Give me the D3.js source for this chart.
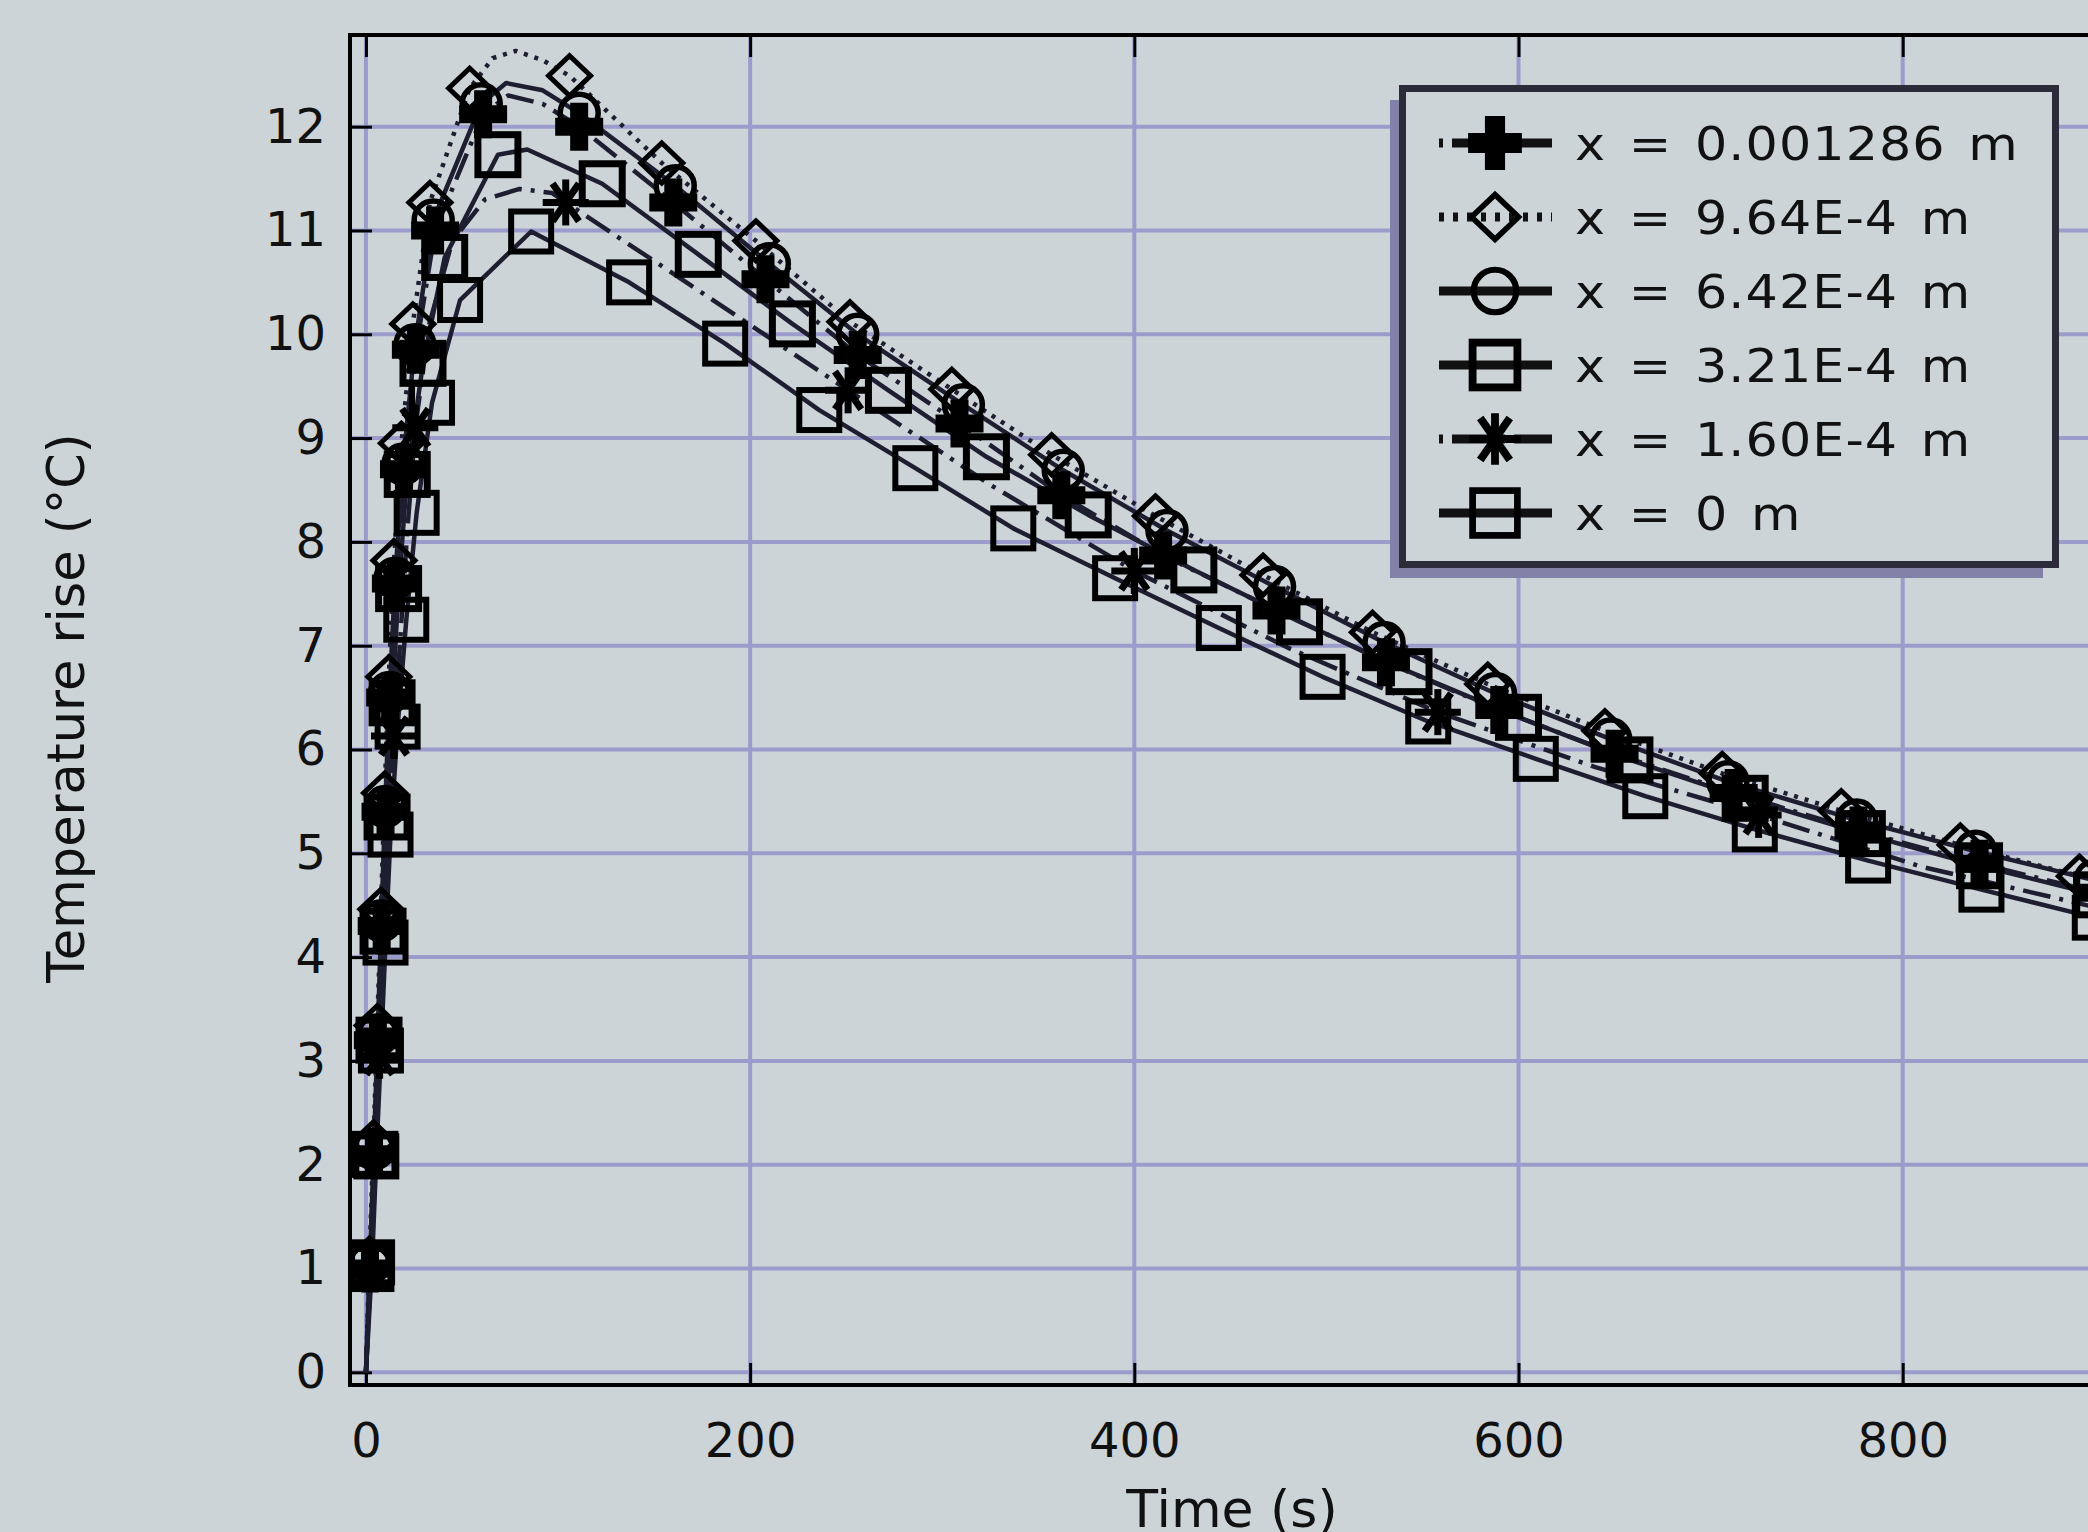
<!DOCTYPE html>
<html>
<head>
<meta charset="utf-8">
<script src="https://cdn.jsdelivr.net/npm/d3@7"></script>
<style>
  html, body { margin: 0; padding: 0; background: #ccd4d8; }
  svg { display: block; }
  text { font-family: "DejaVu Sans", sans-serif; fill: #111; }
</style>
</head>
<body>
<svg id="chart" width="2088" height="1532"></svg>
<script>
// axis ticks
const xTicks = [0, 200, 400, 600, 800];
const yTicks = [0, 1, 2, 3, 4, 5, 6, 7, 8, 9, 10, 11, 12];

const labels = ['x = 0.001286 m', 'x = 9.64E-4 m', 'x = 6.42E-4 m', 'x = 3.21E-4 m', 'x = 1.60E-4 m', 'x = 0 m'];
const markerTypes = ['plus', 'diamond', 'circle', 'square2', 'asterisk', 'square'];
const dashTypes = ['dashdot', 'dot', 'solid', 'solid', 'dashdot', 'solid'];

// [time (s), temperature rise (°C)] at the markers
const marksA = [[2.1,1.0],[4.2,2.1],[6.2,3.2],[8.2,4.3],[10.2,5.4],[12.6,6.5],[15.6,7.6],[19.8,8.7],[26,9.85],[36,11.0],[61,12.12],[111,12.0],[160,11.27],[208,10.53],[256,9.8],[309,9.14],[362,8.45],[415,7.87],[474,7.34],[531,6.84],[590,6.38],[650,5.96],[712,5.58],[777,5.22],[840,4.9],[902,4.62]];
const marksB = [[1.8,1.1],[3.9,2.22],[5.9,3.34],[7.8,4.46],[9.7,5.58],[11.9,6.7],[14.6,7.82],[18.5,8.95],[24.4,10.1],[33.3,11.27],[54,12.37],[106,12.49],[154,11.65],[203,10.9],[252,10.12],[305,9.47],[357,8.84],[411,8.25],[467,7.68],[524,7.13],[584,6.63],[645,6.18],[706,5.77],[768,5.41],[830,5.08],[892,4.78]];
const marksC = [[2,1.05],[4.1,2.15],[6.1,3.25],[8,4.35],[10,5.45],[12.3,6.55],[15.2,7.65],[19.3,8.75],[25.5,9.9],[35,11.1],[60,12.22],[111,12.13],[161,11.43],[210,10.68],[256,10.0],[311,9.32],[363,8.69],[417,8.11],[473,7.57],[530,7.03],[588,6.54],[648,6.1],[709,5.69],[776,5.32],[838,5.02],[900,4.74]];
const marksD = [[2.6,1.0],[4.7,2.1],[6.8,3.2],[8.9,4.25],[11,5.35],[13.6,6.45],[17,7.55],[21.5,8.65],[29.7,9.72],[41,10.74],[68.7,11.73],[123,11.45],[173,10.77],[222,10.1],[272,9.46],[323,8.82],[376,8.26],[431,7.73],[486,7.23],[543,6.75],[600,6.31],[658,5.9],[718,5.53],[779,5.19],[840,4.88],[901,4.6]];
const marksE = [[7.1,3.05],[14.6,6.13],[25.7,9.1],[104,11.27],[251,9.46],[400,7.72],[558,6.36],[725,5.37]];
const marksF = [[3.2,1.06],[5.4,2.08],[7.8,3.1],[10.2,4.14],[12.8,5.18],[16.5,6.22],[21,7.25],[26.4,8.28],[34.4,9.34],[49,10.33],[86,10.99],[137,10.5],[187,9.91],[236,9.27],[286,8.71],[337,8.13],[390,7.65],[444,7.17],[498,6.7],[553,6.27],[609,5.91],[666,5.55],[723,5.23],[782,4.93],[841,4.65],[900,4.38]];

// extra curve points between markers (start and peaks)
const extraA = [[0,0],[74,12.3],[92,12.22]];
const extraB = [[0,0],[66,12.66],[78,12.73],[92,12.64]];
const extraC = [[0,0],[73,12.42],[92,12.35]];
const extraD = [[0,0],[84,11.78]];
const extraE = [[0,0],[2.5,1],[5,2],[9.5,4.1],[12,5.1],[18,7.1],[21.5,8.1],[33,10.1],[45,10.9],[62,11.3],[80,11.4],[97,11.36],[175,10.4],[325,8.55],[480,6.98],[640,5.83],[810,4.87],[905,4.46]];
const extraF = [[0,0]];

const marks = [marksA, marksB, marksC, marksD, marksE, marksF];
const extras = [extraA, extraB, extraC, extraD, extraE, extraF];

// layout
const frame = { left: 350, top: 35, right: 2114, bottom: 1385 };
const gridColor = '#9c9ccc';
const lineColor = '#1e1e30';
const dashes = { solid: null, dot: '4,7', dashdot: '28,9,4,9' };

const svg = d3.select('#chart');

const x = d3.scaleLinear().domain([-8.3, 910]).range([frame.left, frame.right]);
const y = d3.scaleLinear().domain([-0.122, 12.883]).range([frame.bottom, frame.top]);

svg.append('rect').attr('width', 2088).attr('height', 1532).attr('fill', '#ccd4d8');

svg.append('clipPath').attr('id', 'plotclip')
    .append('rect')
    .attr('x', frame.left).attr('y', frame.top)
    .attr('width', frame.right - frame.left).attr('height', frame.bottom - frame.top);

// grid
const grid = svg.append('g');
grid.selectAll('.gx').data(xTicks).join('line')
    .attr('x1', d => x(d)).attr('x2', d => x(d))
    .attr('y1', frame.top).attr('y2', frame.bottom)
    .attr('stroke', gridColor).attr('stroke-width', 4);
grid.selectAll('.gy').data(yTicks).join('line')
    .attr('x1', frame.left).attr('x2', frame.right)
    .attr('y1', d => y(d)).attr('y2', d => y(d))
    .attr('stroke', gridColor).attr('stroke-width', 4);

// axes (ticks point inward)
const styleAxis = g => {
    g.select('.domain').remove();
    g.selectAll('.tick line').attr('stroke', '#000').attr('stroke-width', 3);
    g.selectAll('.tick text')
        .attr('font-size', 48)
        .attr('font-family', '"DejaVu Sans", sans-serif')
        .attr('fill', '#111');
};

svg.append('g')
    .attr('transform', `translate(${frame.left},0)`)
    .call(d3.axisLeft(y).tickValues(yTicks).tickSize(-22).tickPadding(24))
    .call(styleAxis);

svg.append('g')
    .attr('transform', `translate(0,${frame.bottom})`)
    .call(d3.axisBottom(x).tickValues(xTicks).tickSize(-22).tickPadding(38))
    .call(styleAxis);

svg.append('g')
    .attr('transform', `translate(0,${frame.top})`)
    .call(d3.axisTop(x).tickValues(xTicks).tickSize(-22).tickFormat(''))
    .call(styleAxis);

// frame
svg.append('rect')
    .attr('x', frame.left).attr('y', frame.top)
    .attr('width', frame.right - frame.left).attr('height', frame.bottom - frame.top)
    .attr('fill', 'none').attr('stroke', '#000').attr('stroke-width', 4);

// axis titles (the x title is cut by the bottom edge, as in the source image)
svg.append('text')
    .attr('x', 1232).attr('y', 1527)
    .attr('text-anchor', 'middle')
    .attr('font-size', 52)
    .text('Time (s)');

svg.append('text')
    .attr('transform', 'translate(84,708) rotate(-90)')
    .attr('text-anchor', 'middle')
    .attr('font-size', 51)
    .text('Temperature rise (°C)');

// marker shapes centred at 0,0
function drawMarker(g, type, k) {
    if (type === 'plus') {
        const s = 24 * k, a = 9 * k;
        g.append('path')
            .attr('d', `M${-a},${-s}H${a}V${-a}H${s}V${a}H${a}V${s}H${-a}V${a}H${-s}V${-a}H${-a}Z`)
            .attr('fill', '#000');
    } else if (type === 'diamond') {
        const w = 21 * k, h = 20 * k;
        g.append('path')
            .attr('d', `M0,${-h}L${w},0L0,${h}L${-w},0Z`)
            .attr('fill', 'none').attr('stroke', '#000').attr('stroke-width', 5 * k);
    } else if (type === 'circle') {
        g.append('circle').attr('r', 19 * k)
            .attr('fill', 'none').attr('stroke', '#000').attr('stroke-width', 5.5 * k);
    } else if (type === 'square' || type === 'square2') {
        const s = 20 * k;
        g.append('rect').attr('x', -s).attr('y', -s).attr('width', 2 * s).attr('height', 2 * s)
            .attr('fill', 'none').attr('stroke', '#000')
            .attr('stroke-width', (type === 'square2' ? 7 : 6) * k);
    } else if (type === 'asterisk') {
        const r = 23 * k;
        [0, 90, 55, 125].forEach(ang => {
            const c = Math.cos(ang * Math.PI / 180) * r, s = Math.sin(ang * Math.PI / 180) * r;
            g.append('line').attr('x1', -c).attr('y1', -s).attr('x2', c).attr('y2', s)
                .attr('stroke', '#000').attr('stroke-width', 7 * k);
        });
    }
}

// curves
const plot = svg.append('g').attr('clip-path', 'url(#plotclip)');
const line = d3.line().x(d => x(d[0])).y(d => y(d[1]));

marks.forEach((m, i) => {
    const pts = m.concat(extras[i]).sort((a, b) => a[0] - b[0]);
    plot.append('path')
        .datum(pts)
        .attr('fill', 'none')
        .attr('stroke', lineColor)
        .attr('stroke-width', 4.5)
        .attr('stroke-linejoin', 'round')
        .attr('stroke-dasharray', dashes[dashTypes[i]])
        .attr('d', line);
});

marks.forEach((m, i) => {
    m.forEach(d => {
        const g = plot.append('g').attr('transform', `translate(${x(d[0])},${y(d[1])})`);
        drawMarker(g, markerTypes[i], 1);
    });
});

// legend
const legend = svg.append('g');
legend.append('rect')
    .attr('x', 1390).attr('y', 100).attr('width', 653).attr('height', 478)
    .attr('fill', '#8282a8');
legend.append('rect')
    .attr('x', 1402.5).attr('y', 88.5).attr('width', 653).attr('height', 476)
    .attr('fill', '#ccd4d8').attr('stroke', '#2b2b3a').attr('stroke-width', 7);

labels.forEach((lab, i) => {
    const cy = 143 + i * 74;
    legend.append('line')
        .attr('x1', 1439).attr('x2', 1552).attr('y1', cy).attr('y2', cy)
        .attr('stroke', '#111').attr('stroke-width', 9)
        .attr('stroke-dasharray', dashTypes[i] === 'dot' ? '5,9' : dashTypes[i] === 'dashdot' ? '4,9,40,9' : null);
    const g = legend.append('g').attr('transform', `translate(1495,${cy})`);
    drawMarker(g, markerTypes[i], 1.12);
    legend.append('text')
        .attr('transform', `translate(1575,${cy + 17}) scale(1.08,1)`)
        .attr('font-size', 47)
        .attr('letter-spacing', 1)
        .attr('word-spacing', 5)
        .text(lab);
});
</script>
</body>
</html>
